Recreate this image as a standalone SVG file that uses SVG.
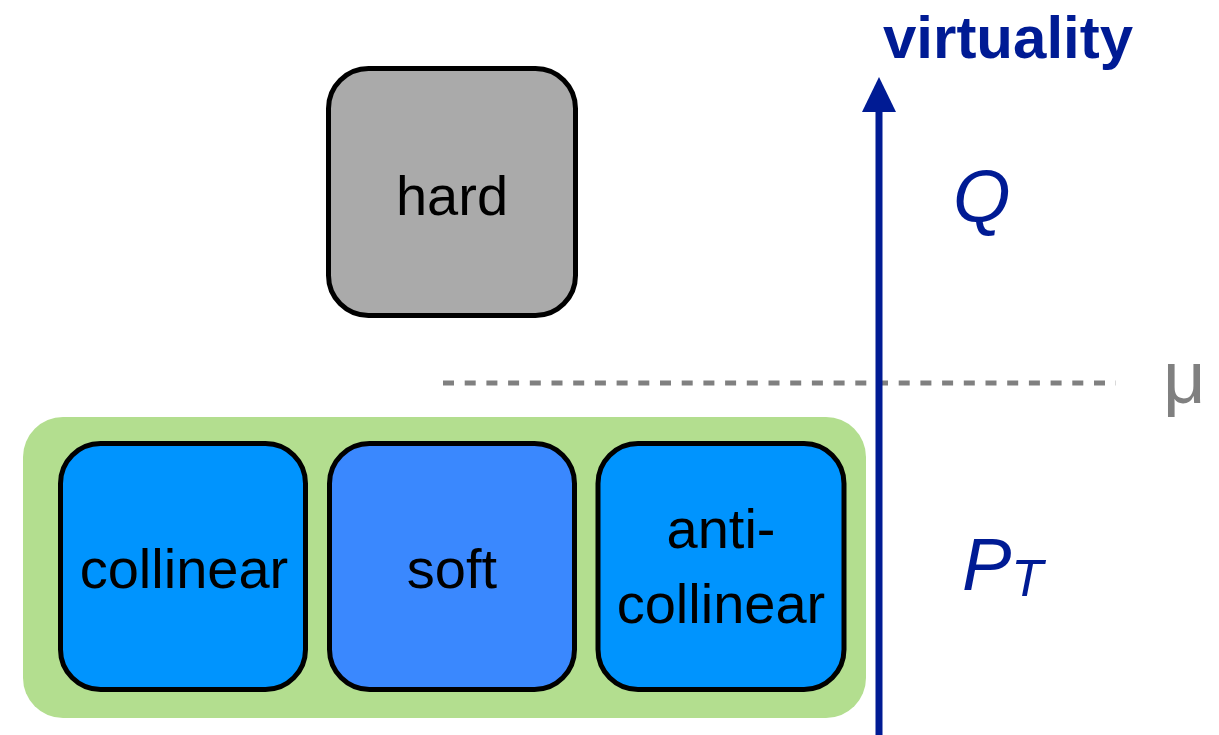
<svg xmlns="http://www.w3.org/2000/svg" width="1219" height="735" viewBox="0 0 1219 735">
<style>
.box{stroke:#000;stroke-width:5}
.lbl{font-family:"Liberation Sans",Arial,sans-serif;font-size:56px;fill:#000;text-anchor:middle}
.ax{font-family:"Liberation Sans",Arial,sans-serif;fill:#001b94}
</style>
<rect width="1219" height="735" fill="#fff"/>
<g id="group">
<rect x="23" y="417" width="843" height="301" rx="40" fill="#b3de8f"/>
</g>
<g id="hard">
<rect class="box" x="328.5" y="68.5" width="247" height="247" rx="40" fill="#aaaaaa"/>
<text class="lbl" x="452" y="215" font-size="60">hard</text>
</g>
<g id="collinear">
<rect class="box" x="60.5" y="443.5" width="245" height="246" rx="40" fill="#0094fe"/>
<text class="lbl" x="184" y="588">collinear</text>
</g>
<g id="soft">
<rect class="box" x="329.5" y="443.5" width="245" height="246" rx="40" fill="#3a88fe"/>
<text class="lbl" x="452" y="588" font-size="58">soft</text>
</g>
<g id="anticollinear">
<rect class="box" x="598" y="443.5" width="246" height="246" rx="40" fill="#0094fe"/>
<text class="lbl" x="721" y="548" font-size="58">anti-</text>
<text class="lbl" x="721" y="623" font-size="57">collinear</text>
</g>
<g id="connectors">
<line x1="443" y1="383" x2="1116" y2="383" stroke="#808080" stroke-width="5" stroke-dasharray="11 10.7"/>
<line x1="879" y1="735" x2="879" y2="100" stroke="#001b94" stroke-width="7"/>
<path d="M879,77 L896,112 L862,112 Z" fill="#001b94"/>
</g>
<g id="labels">
<text class="ax" x="883" y="58" font-size="60" font-weight="bold">virtuality</text>
<text class="ax" x="953" y="222" font-size="74" font-style="italic">Q</text>
<text x="1163" y="403" font-family="Liberation Sans,Arial,sans-serif" font-size="74" fill="#808080">μ</text>
<text class="ax" x="962" y="590" font-size="74" font-style="italic">P<tspan font-size="52" dy="6">T</tspan></text>
</g>
</svg>
